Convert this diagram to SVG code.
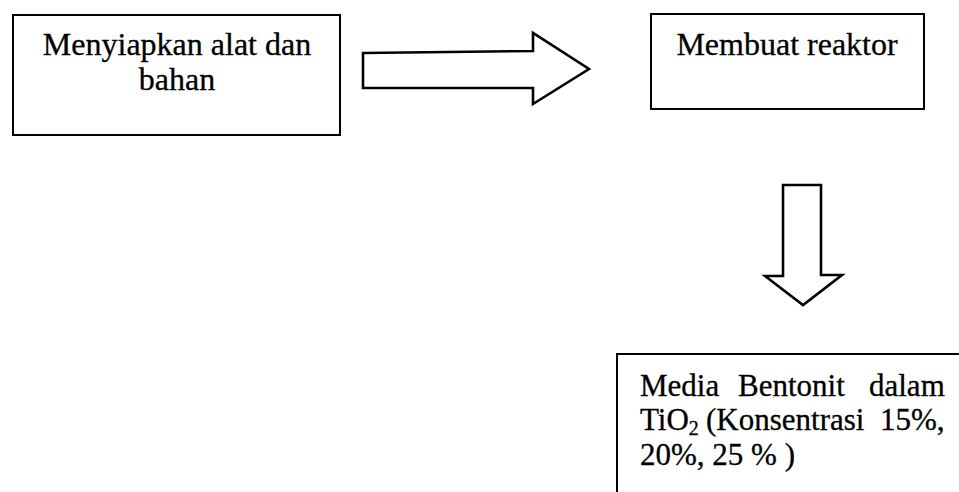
<svg xmlns="http://www.w3.org/2000/svg" width="959" height="492" viewBox="0 0 959 492">
  <style>
    .box { fill: #fff; stroke: #000; stroke-width: 2; }
    .block-arrow { fill: #fff; stroke: #000; stroke-width: 2.6; stroke-linejoin: miter; }
    .label { font-family: "Liberation Serif", "Times New Roman", serif; font-size: 32px; fill: #000; stroke: #000; stroke-width: 0.3; }
    .small { font-size: 31px; }
    .c { text-anchor: middle; }
    .sub { font-size: 20px; }
  </style>
  <rect width="959" height="492" fill="#fff"/>

  <g id="node-siapkan">
    <rect class="box" x="13" y="15" width="327" height="120"/>
    <text class="label c" x="177" y="55">Menyiapkan alat dan</text>
    <text class="label c" x="177" y="90">bahan</text>
  </g>

  <g id="node-reaktor">
    <rect class="box" x="651" y="14" width="273" height="95"/>
    <text class="label c" x="787" y="55">Membuat reaktor</text>
  </g>

  <g id="node-media">
    <rect class="box" x="617" y="354" width="360" height="160"/>
    <text class="label small" y="396"><tspan x="640">Media</tspan><tspan x="738">Bentonit</tspan><tspan x="869">dalam</tspan></text>
    <text class="label small" y="430"><tspan x="640">TiO</tspan><tspan class="sub" dy="5">2</tspan><tspan x="706" dy="-5">(Konsentrasi</tspan><tspan x="880">15%,</tspan></text>
    <text class="label small" x="640" y="465">20%, 25 % )</text>
  </g>

  <g id="connectors">
    <polygon class="block-arrow" points="363,53 533,51 533,33 589,69 533,104 533,88 363,88"/>
    <polygon class="block-arrow" points="783,185 821,185 821,275 842,275 803,305 765,276 783,276"/>
  </g>
</svg>
